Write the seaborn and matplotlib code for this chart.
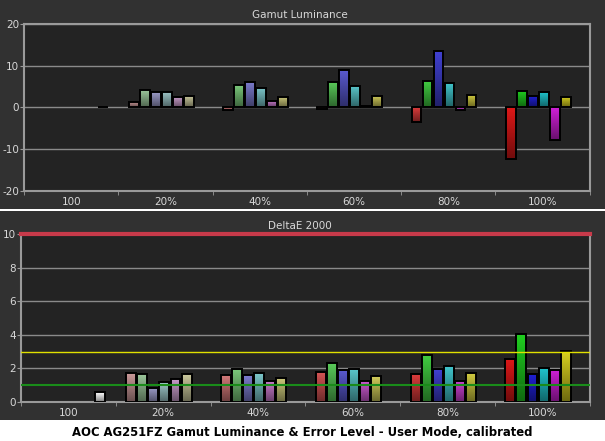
import numpy as np
import pandas as pd
import matplotlib
matplotlib.use('Agg')
import matplotlib.pyplot as plt
import seaborn as sns
from matplotlib.patches import Rectangle
from matplotlib.colors import to_rgb

plt.rcParams['axes.unicode_minus'] = False

# categories
groups = ['100', '20%', '40%', '60%', '80%', '100%']
colors = ['red', 'green', 'blue', 'cyan', 'magenta', 'yellow']

# Gamut luminance error (%) per saturation step, order R G B C M Y
lum_20 = [1.3, 4.2, 3.7, 3.7, 2.5, 2.7]
lum_40 = [-0.6, 5.4, 6.0, 4.7, 1.5, 2.5]
lum_60 = [-0.4, 6.1, 9.0, 5.2, 0.3, 2.7]
lum_80 = [-3.4, 6.4, 13.6, 5.9, -0.6, 3.0]
lum_100 = [-12.3, 4.0, 2.7, 3.7, -7.7, 2.5]
lum_white = 0.0

# DeltaE 2000 per saturation step, order R G B C M Y
de_20 = [1.75, 1.69, 0.85, 1.17, 1.39, 1.65]
de_40 = [1.59, 1.98, 1.59, 1.71, 1.27, 1.45]
de_60 = [1.81, 2.34, 1.92, 1.98, 1.27, 1.53]
de_80 = [1.65, 2.82, 1.98, 2.16, 1.27, 1.75]
de_100 = [2.58, 4.03, 1.69, 2.04, 1.92, 3.02]
de_white = 0.58

# reference lines on the deltaE chart
de_limits = [10, 3, 1]

rows = []
for g, lv, dv in zip(groups[1:], [lum_20, lum_40, lum_60, lum_80, lum_100],
                     [de_20, de_40, de_60, de_80, de_100]):
    for c, l, d in zip(colors, lv, dv):
        rows.append({'group': g, 'color': c, 'lum': l, 'de': d})
df = pd.DataFrame(rows)

pure = {'red': '#e01818', 'green': '#20d020', 'blue': '#2020d8',
        'cyan': '#20c8d0', 'magenta': '#d020d8', 'yellow': '#d8d020'}
sat = [0.0, 0.25, 0.45, 0.65, 0.8, 1.0]
gray = np.array(to_rgb('#c8c8c8'))

FIG_BG = '#313131'
AX_BG = '#232323'
TXT = '#d8d8d8'
LINE = '#9a9a9a'


def paint(ax, bar, rgb):
    # vertical gradient, bright on top, darker at the bottom
    x0, w = bar.get_x(), bar.get_width()
    y0, h = bar.get_y(), bar.get_height()
    lo, hi = min(y0, y0 + h), max(y0, y0 + h)
    t = np.linspace(1.0, 0.5, 64)[:, None, None]
    img = np.clip(np.ones((64, 1, 3)) * np.array(rgb) * t, 0, 1)
    im = ax.imshow(img, extent=[x0, x0 + w, lo, hi], aspect='auto',
                   origin='upper', zorder=2.5, interpolation='bilinear')
    im.set_clip_path(bar)
    bar.set_facecolor('none')


def draw_panel(ax, col, white_val, ylim, yticks):
    ax.set_facecolor(AX_BG)
    sns.barplot(data=df, x='group', y=col, hue='color', order=groups,
                hue_order=colors, palette=pure, width=0.7, gap=0.1,
                errorbar=None, edgecolor='black', linewidth=1.4,
                legend=False, ax=ax, zorder=3)
    for i, cont in enumerate(ax.containers):
        for bar in cont:
            gi = int(round(bar.get_x() + bar.get_width() / 2))
            rgb = gray * (1 - sat[gi]) + np.array(to_rgb(pure[colors[i]])) * sat[gi]
            bar.set_x(bar.get_x() - 0.045)
            paint(ax, bar, rgb)
    wb = ax.bar(groups.index('100') + 0.335, white_val, width=0.105,
                edgecolor='black', linewidth=1.4, zorder=3)
    paint(ax, wb[0], (1, 1, 1))

    ax.set_xlim(-0.5, len(groups) - 0.5)
    ax.set_ylim(*ylim)
    ax.set_yticks(yticks)
    ax.set_xticks(range(len(groups)))
    ax.set_xticklabels(groups)
    ax.set_xticks(np.arange(-0.5, len(groups)), minor=True)
    ax.set_xlabel('')
    ax.set_ylabel('')
    ax.grid(axis='y', color='#8a8a8a', lw=1, zorder=1)
    ax.set_axisbelow(True)
    ax.tick_params(axis='x', which='major', length=0, labelsize=7.5,
                   labelcolor=TXT, pad=4)
    ax.tick_params(axis='x', which='minor', length=3, color=LINE)
    ax.tick_params(axis='y', length=3, color=LINE, labelsize=7.5,
                   labelcolor=TXT, pad=0.5)
    for s in ax.spines.values():
        s.set_color(LINE)
        s.set_linewidth(1.5)


fig = plt.figure(figsize=(6.05, 4.41), dpi=100, facecolor='white')
fig.patches.append(Rectangle((0, 0.526), 1, 0.474, transform=fig.transFigure,
                             facecolor=FIG_BG, zorder=-10))
fig.patches.append(Rectangle((0, 0.0476), 1, 0.474, transform=fig.transFigure,
                             facecolor=FIG_BG, zorder=-10))

ax1 = fig.add_axes([0.0397, 0.567, 0.935, 0.3786])
draw_panel(ax1, 'lum', lum_white, (-20, 20), [-20, -10, 0, 10, 20])

ax2 = fig.add_axes([0.0347, 0.0884, 0.940, 0.381])
draw_panel(ax2, 'de', de_white, (0, 10), [0, 2, 4, 6, 8, 10])
ax2.axhline(de_limits[0], color='#c83a4a', lw=3, zorder=5, clip_on=False)
ax2.axhline(de_limits[1], color='#e0e000', lw=1, zorder=5)
ax2.axhline(de_limits[2], color='#1a8c1a', lw=1.5, zorder=5)

fig.text(0.495, 0.966, 'Gamut Luminance', color=TXT, fontsize=7.5,
         ha='center', va='center')
fig.text(0.495, 0.4875, 'DeltaE 2000', color=TXT, fontsize=7.5,
         ha='center', va='center')
fig.text(0.5, 0.02, 'AOC AG251FZ Gamut Luminance & Error Level - User Mode, calibrated',
         color='black', fontsize=8.4, fontweight='bold', ha='center', va='center')

fig.savefig('out.png', dpi=100, facecolor=fig.get_facecolor())
